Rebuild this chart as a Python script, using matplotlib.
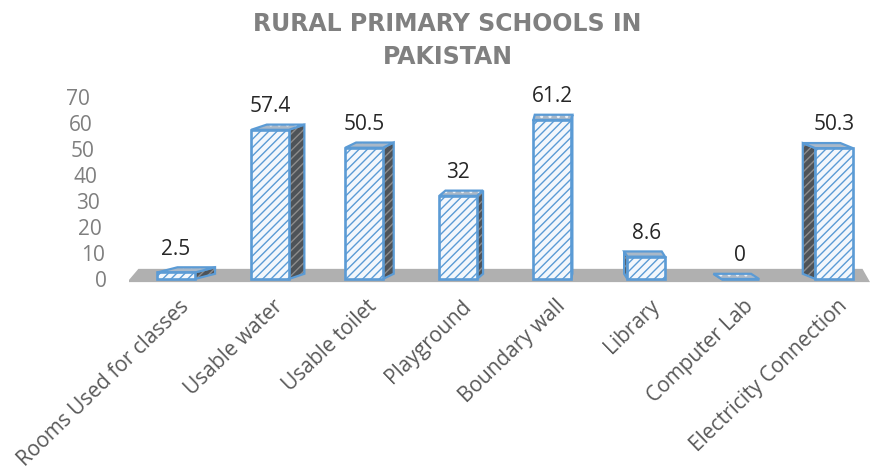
import matplotlib
matplotlib.use("Agg")
import matplotlib.pyplot as plt
from matplotlib.patches import Polygon
from matplotlib.transforms import ScaledTranslation

plt.rcParams['font.family'] = ['Open Sans', 'DejaVu Sans']
plt.rcParams['hatch.linewidth'] = 1.0

categories = ["Rooms Used for classes", "Usable water", "Usable toilet", "Playground",
              "Boundary wall", "Library", "Computer Lab", "Electricity Connection"]
values = [2.5, 57.4, 50.5, 32, 61.2, 8.6, 0, 50.3]
value_labels = ["2.5", "57.4", "50.5", "32", "61.2", "8.6", "0", "50.3"]
yticks = [0, 10, 20, 30, 40, 50, 60, 70]

BLUE = "#5B9BD5"
FRONT = "#F3F7FC"
TOP = "#A9B8C8"
SIDE = "#4E5358"

DPI = 100
fig = plt.figure(figsize=(8.74, 4.72), dpi=DPI)
ax = fig.add_axes([0.1476, 0.3924, 0.85, 0.413])
ax.set_xlim(-0.5, 7.4)
ax.set_ylim(-3, 72)

width = 0.4
depth_y = 2.0          # apparent depth of each column (value units)
vp, k = 4.3, 0.05      # horizontal shift of the back faces toward the centre

# floor
floor = Polygon([(-0.52, -1.2), (7.38, -1.2), (7.30, 3.9), (-0.40, 3.9)],
                closed=True, facecolor="#B0B0B0", edgecolor="none", zorder=1)
ax.add_patch(floor)

xs = list(range(len(values)))
for x, h in zip(xs, values):
    dx = k * (vp - x)
    xl, xr = x - width / 2, x + width / 2
    # side face
    if dx > 0:
        side = [(xr, 0), (xr, h), (xr + dx, h + depth_y), (xr + dx, depth_y)]
    else:
        side = [(xl, 0), (xl, h), (xl + dx, h + depth_y), (xl + dx, depth_y)]
    ax.add_patch(Polygon(side, closed=True, facecolor=SIDE, edgecolor="#8C8C8C",
                         hatch="////", linewidth=0, zorder=2))
    ax.add_patch(Polygon(side, closed=True, fill=False, edgecolor=BLUE,
                         linewidth=1.6, zorder=2.1))
    # top face
    top = [(xl, h), (xr, h), (xr + dx, h + depth_y), (xl + dx, h + depth_y)]
    ax.add_patch(Polygon(top, closed=True, facecolor=TOP, edgecolor="#E8EEF5",
                         hatch="..", linewidth=0, zorder=2.2))
    ax.add_patch(Polygon(top, closed=True, fill=False, edgecolor=BLUE,
                         linewidth=1.6, zorder=2.3))

# front faces
ax.bar(xs, values, width=width, color=FRONT, edgecolor=BLUE, hatch="////",
       linewidth=1.9, zorder=3)

for x, h, lab in zip(xs, values, value_labels):
    ax.annotate(lab, (x, h + depth_y), xytext=(0, 5.5), textcoords="offset points",
                ha="center", va="bottom", fontsize=15, color="#262626")

for s in ax.spines.values():
    s.set_visible(False)
ax.set_yticks(yticks)
ax.set_yticklabels([str(t) for t in yticks])
ax.tick_params(axis="y", length=0, pad=15.8, labelsize=15, labelcolor="#7F7F7F")
# the value axis leans back: higher labels sit further left
for t, lbl in zip(yticks, ax.get_yticklabels()):
    shift = -17.0 * t / 70.0 / DPI
    lbl.set_transform(lbl.get_transform() + ScaledTranslation(shift, 0, fig.dpi_scale_trans))

ax.set_xticks(xs)
ax.set_xticklabels(categories, rotation=44, ha="right", va="center",
                   rotation_mode="anchor", fontsize=15, color="#595959")
ax.tick_params(axis="x", length=0, pad=12)
for lbl in ax.get_xticklabels():
    lbl.set_transform(lbl.get_transform() + ScaledTranslation(10 / DPI, 0, fig.dpi_scale_trans))

fig.text(0.512, 0.914, "RURAL PRIMARY SCHOOLS IN\nPAKISTAN", ha="center", va="center",
         fontsize=17, fontweight="bold", color="#808080", family="DejaVu Sans",
         linespacing=1.45)

fig.savefig("out.png", dpi=DPI)
